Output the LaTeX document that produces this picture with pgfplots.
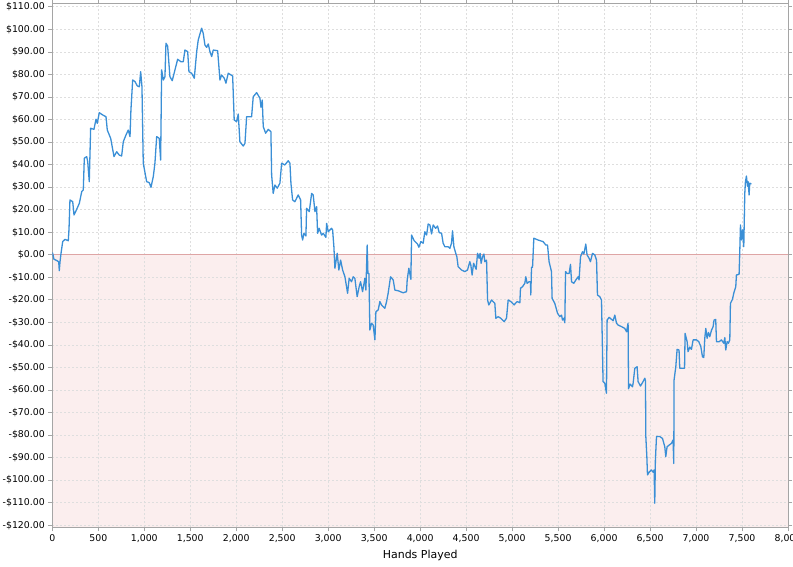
\documentclass[border=0pt]{standalone}
\usepackage{pgfplots}
\pgfplotsset{compat=1.18}
\usepackage{fontspec}
\setmainfont{DejaVu Sans}
\definecolor{linecol}{RGB}{58,143,214}
\definecolor{zeroline}{RGB}{222,165,165}
\definecolor{negfill}{RGB}{251,238,238}
\definecolor{gridcol}{RGB}{222,222,222}
\definecolor{axcol}{RGB}{165,165,165}
\begin{document}
\begin{tikzpicture}
\begin{axis}[
  set layers,
  scale only axis,
  width=735.7bp, height=523.8bp,
  xmin=0, xmax=8000, ymin=-120.95, ymax=111.45,
  axis line style={draw=axcol, line width=0.8bp},
  tick style={draw=axcol, line width=0.6bp},
  tick align=outside,
  major tick length=4bp,
  xtick={0,500,...,8000},
  xticklabels={0,500,{1,000},{1,500},{2,000},{2,500},{3,000},{3,500},{4,000},{4,500},{5,000},{5,500},{6,000},{6,500},{7,000},{7,500},{8,000}},
  ytick={-120,-110,...,110},
  yticklabels={-\$120.00,-\$110.00,-\$100.00,-\$90.00,-\$80.00,-\$70.00,-\$60.00,-\$50.00,-\$40.00,-\$30.00,-\$20.00,-\$10.00,\$0.00,\$10.00,\$20.00,\$30.00,\$40.00,\$50.00,\$60.00,\$70.00,\$80.00,\$90.00,\$100.00,\$110.00},
  ticklabel style={font=\fontsize{9.4}{11}\selectfont, text=black},
  grid=major,
  major grid style={draw=gridcol, line width=0.6bp, dash pattern=on 2bp off 2bp},
  xlabel={Hands Played},
  xlabel style={font=\fontsize{11}{13}\selectfont, text=black},
]
\addplot[on layer=axis background, draw=none, fill=negfill] coordinates {(0,-120.95) (8000,-120.95) (8000,0) (0,0)} -- cycle;
\addplot[zeroline, line width=1.3bp] coordinates {(0,0) (8000,0)};
\addplot[linecol, line width=1.3bp, line join=round] coordinates {
(0,1.0) (4,0.6) (18,-2.0) (54,-2.7) (70,-3.2) (76,-7.1) (84,-3.1) (95,0.6) (113,5.8) (138,6.8) (174,6.2) (182,11.7)
(192,24.3) (222,23.5) (236,17.6) (258,19.5) (294,22.8) (320,28.0) (337,28.7) (348,42.8) (374,43.5) (385,41.3)
(402,32.4) (417,56.1) (453,55.6) (475,60.1) (489,58.3) (511,63.0) (548,62.0) (584,61.2) (598,55.3) (635,51.6)
(671,43.5) (700,45.7) (728,44.2) (754,43.8) (772,50.1) (801,53.1) (826,55.3) (845,52.4) (855,64.2) (874,77.5)
(899,76.8) (924,74.9) (946,74.5) (961,81.2) (975,74.5) (989,40.6) (1026,32.4) (1054,32.0) (1073,29.9) (1098,34.6)
(1116,40.6) (1135,52.4) (1163,51.6) (1178,42.0) (1189,82.0) (1207,77.5) (1225,79.0) (1236,93.8) (1254,92.6)
(1279,79.0) (1304,77.2) (1334,82.0) (1363,86.7) (1399,85.6) (1424,85.6) (1442,90.8) (1472,90.1) (1486,81.2)
(1515,80.5) (1544,78.3) (1570,90.1) (1587,95.3) (1624,100.5) (1641,98.2) (1660,93.0) (1678,92.0) (1696,93.5)
(1714,90.1) (1733,87.9) (1750,90.8) (1798,90.5) (1823,77.5) (1841,79.7) (1870,78.3) (1888,76.1) (1913,80.5)
(1961,79.3) (1978,59.8) (2004,59.0) (2022,62.4) (2040,50.1) (2076,48.2) (2095,49.4) (2113,61.2) (2167,61.2)
(2185,70.1) (2222,71.9) (2258,69.4) (2269,65.4) (2283,68.6) (2294,56.8) (2320,53.9) (2348,55.6) (2377,54.6)
(2385,35.4) (2402,27.2) (2421,30.9) (2446,29.5) (2475,31.7) (2494,40.6) (2529,39.8) (2565,41.7) (2584,40.6)
(2595,31.7) (2613,24.3) (2638,23.5) (2674,26.5) (2700,24.3) (2711,8.7) (2722,6.5) (2736,9.5) (2758,8.3)
(2765,20.6) (2794,19.1) (2820,27.2) (2837,26.5) (2856,19.1) (2874,21.3) (2885,9.5) (2902,11.7) (2928,8.7)
(2946,9.5) (2975,7.7) (2983,13.9) (3000,10.2) (3037,11.7) (3048,11.0) (3062,3.5) (3073,-6.0) (3098,0.6)
(3116,-6.8) (3135,-2.4) (3157,-6.8) (3182,-9.8) (3211,-17.1) (3228,-10.5) (3254,-12.0) (3272,-9.8) (3290,-10.5)
(3315,-18.6) (3337,-14.2) (3352,-12.0) (3374,-16.4) (3399,-10.5) (3410,-15.7) (3424,4.3) (3432,-8.3) (3443,-8.3)
(3453,-33.4) (3472,-30.4) (3489,-31.2) (3508,-37.8) (3519,-25.3) (3544,-24.5) (3562,-20.8) (3580,-22.3)
(3616,-23.8) (3635,-20.8) (3652,-17.1) (3678,-9.8) (3707,-11.2) (3725,-15.7) (3761,-16.0) (3815,-16.9)
(3852,-16.4) (3859,-11.2) (3877,-6.0) (3899,-10.9) (3907,8.7) (3935,6.2) (3972,4.7) (3986,3.3) (4008,5.8)
(4033,5.1) (4051,10.2) (4070,8.7) (4087,13.6) (4106,13.2) (4124,9.2) (4142,13.2) (4168,11.7) (4189,12.7)
(4207,9.8) (4233,9.5) (4250,5.1) (4269,3.5) (4305,3.5) (4323,2.8) (4341,5.1) (4352,10.6) (4367,3.5) (4385,0.9)
(4399,-0.9) (4413,-5.3) (4450,-6.8) (4486,-7.5) (4515,-6.8) (4540,-3.1) (4551,-4.6) (4565,-9.0) (4581,-3.8)
(4609,-6.5) (4624,0.6) (4641,-1.6) (4652,0.6) (4663,-3.8) (4678,-0.9) (4693,0.3) (4703,-3.1) (4722,-2.4)
(4733,-20.1) (4747,-22.3) (4776,-20.1) (4812,-21.6) (4823,-28.2) (4848,-27.5) (4877,-28.2) (4913,-29.7)
(4939,-28.2) (4957,-20.1) (4986,-20.8) (5022,-22.3) (5029,-21.9) (5055,-20.8) (5084,-21.3) (5091,-14.9)
(5113,-14.2) (5138,-12.7) (5149,-9.8) (5163,-12.7) (5185,-12.0) (5200,-12.0) (5203,-17.9) (5211,-5.6)
(5222,-5.6) (5236,7.3) (5283,6.5) (5337,5.8) (5366,4.3) (5385,4.3) (5402,-3.1) (5428,-7.5) (5435,-19.4)
(5464,-21.6) (5494,-26.0) (5519,-27.5) (5537,-26.8) (5548,-29.0) (5562,-28.2) (5573,-30.2) (5581,-7.5)
(5598,-8.3) (5620,-8.3) (5635,-4.3) (5646,-12.0) (5671,-12.7) (5693,-11.2) (5718,-9.8) (5728,-11.2) (5744,-0.9)
(5765,1.3) (5780,0.3) (5801,4.7) (5815,-0.1) (5837,-1.6) (5852,-3.1) (5874,0.6) (5899,-0.1) (5918,-2.4)
(5928,-17.9) (5953,-18.6) (5972,-20.1) (5989,-56.3) (6008,-57.1) (6026,-61.5) (6033,-29.0) (6055,-27.8)
(6081,-28.7) (6098,-29.3) (6117,-26.8) (6135,-30.4) (6152,-31.2) (6189,-31.9) (6225,-32.7) (6244,-34.2)
(6261,-30.4) (6266,-59.5) (6282,-57.4) (6309,-58.6) (6316,-57.0) (6334,-50.4) (6359,-49.7) (6370,-56.3)
(6396,-58.3) (6424,-56.3) (6443,-54.8) (6450,-56.0) (6454,-80.7) (6465,-89.6) (6472,-97.7) (6490,-96.5)
(6515,-95.5) (6533,-96.5) (6544,-95.5) (6551,-110.3) (6558,-91.1) (6570,-80.7) (6606,-80.7) (6635,-81.5)
(6660,-85.2) (6671,-89.6) (6685,-85.2) (6707,-84.5) (6733,-83.7) (6750,-82.2) (6758,-92.6) (6761,-55.6)
(6780,-49.7) (6794,-42.0) (6815,-42.3) (6823,-50.4) (6859,-50.4) (6875,-50.4) (6881,-34.9) (6903,-38.6)
(6913,-43.0) (6932,-41.0) (6950,-42.0) (6968,-37.8) (7005,-37.8) (7030,-38.6) (7052,-40.8) (7070,-45.3)
(7084,-45.6) (7095,-37.1) (7106,-32.7) (7120,-37.1) (7135,-34.5) (7149,-36.4) (7168,-33.5) (7185,-32.0)
(7196,-29.0) (7214,-28.7) (7222,-38.6) (7251,-38.6) (7276,-37.8) (7302,-39.3) (7313,-36.8) (7323,-42.3)
(7338,-38.6) (7352,-39.3) (7367,-37.8) (7374,-21.6) (7396,-19.8) (7410,-17.1) (7432,-14.2) (7439,-9.0)
(7468,-8.7) (7475,0.6) (7483,13.2) (7494,6.5) (7505,11.0) (7519,3.5) (7530,27.2) (7537,32.4) (7548,34.9)
(7559,30.4) (7566,32.4) (7577,26.5) (7584,31.7) (7602,31.4)
};
\coordinate (bl) at (rel axis cs:0,0);
\coordinate (tr) at (rel axis cs:1,1);
\end{axis}
\pgfresetboundingbox
\path[use as bounding box] ([xshift=-52.3bp,yshift=-38.7bp]bl) rectangle ([xshift=5bp,yshift=3.5bp]tr);
\end{tikzpicture}
\end{document}
